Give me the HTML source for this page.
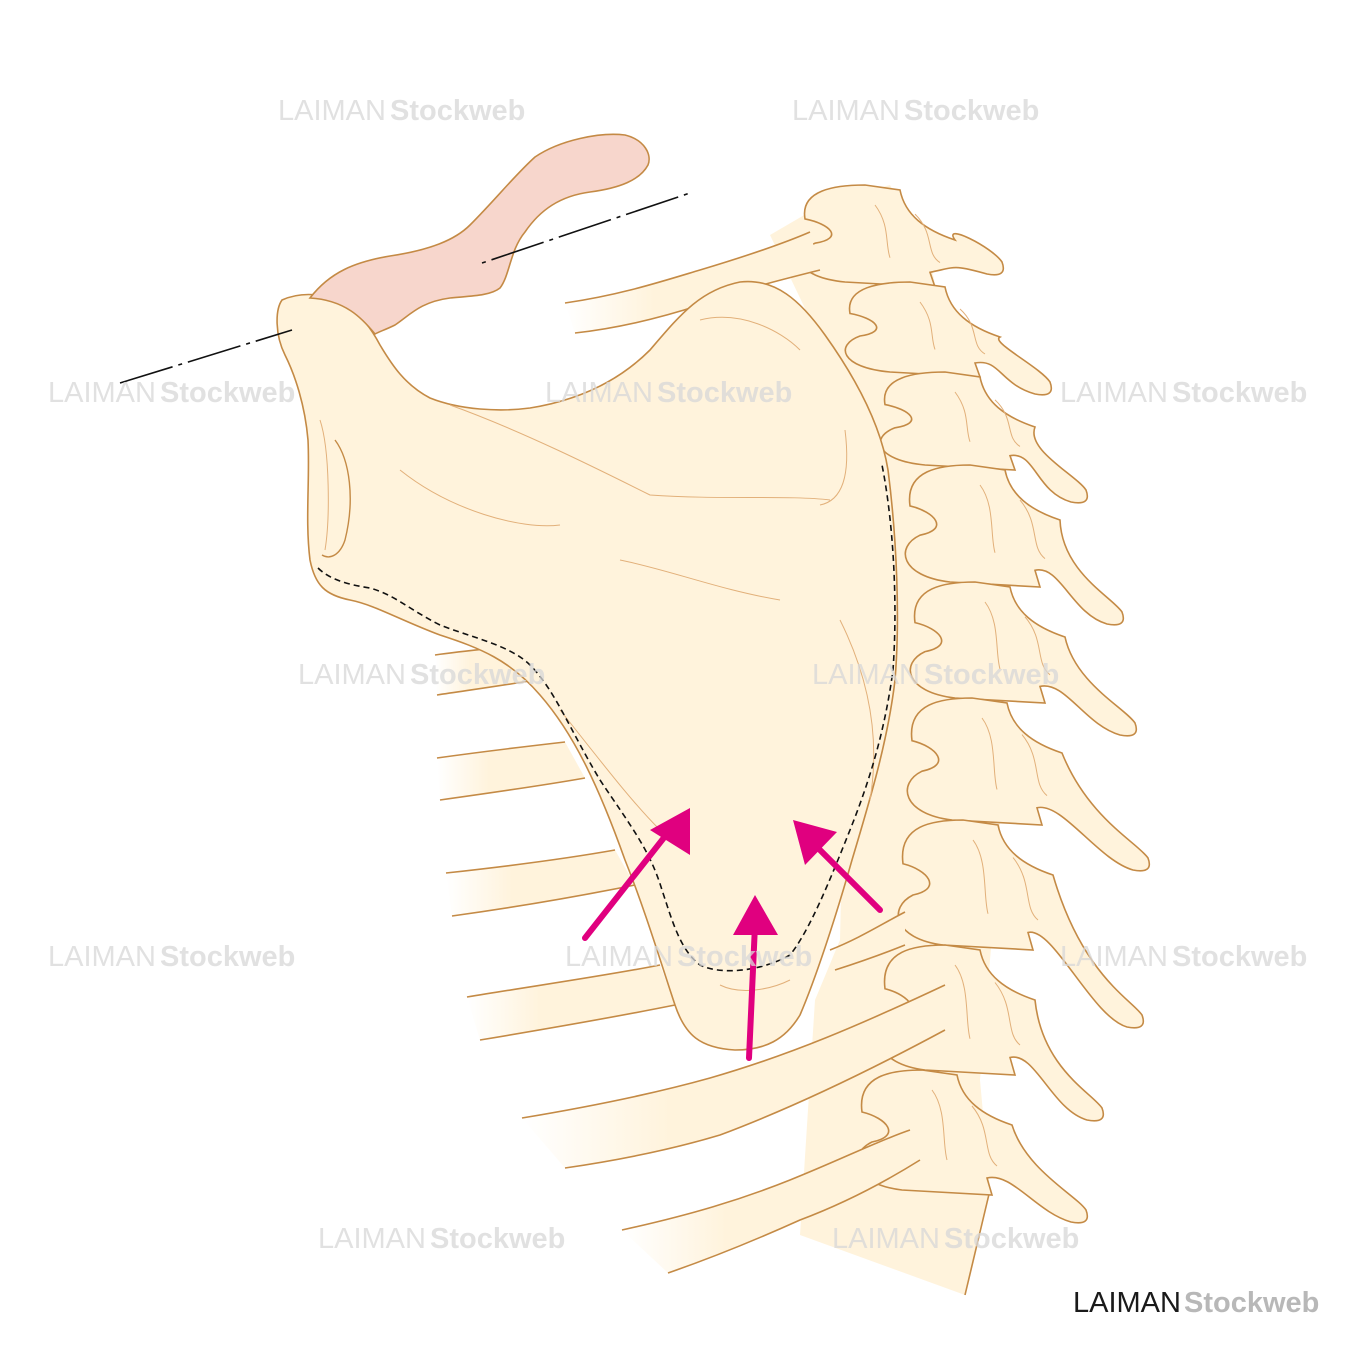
<!DOCTYPE html>
<html><head><meta charset="utf-8"><style>
html,body{margin:0;padding:0;background:#fff}
svg{display:block}
.wm{font-family:"Liberation Sans",sans-serif;font-size:29px;fill:#d8d8d8;opacity:.75}
</style></head><body>
<svg id="s" width="1350" height="1350" viewBox="0 0 1350 1350" xmlns="http://www.w3.org/2000/svg">
<defs>
<linearGradient id="rg" x1="0" x2="1" y1="0" y2="0">
<stop offset="0" stop-color="#fff3dc" stop-opacity="0"/>
<stop offset="0.35" stop-color="#fff3dc" stop-opacity="1"/>
</linearGradient>
</defs>
<g id="col"></g>
<g id="vert"></g>
<g id="ribs"></g>
<!-- scapula -->
<path d="M282,300 C300,292 325,292 345,305 C362,315 372,330 380,345 C392,365 405,385 430,398 C460,410 500,412 530,408 C580,400 620,380 650,350 C680,315 700,290 740,282 C775,278 800,300 825,335 C850,370 880,420 888,470 C897,540 900,620 895,680 C888,740 870,800 852,860 C835,920 815,980 800,1015 C785,1040 765,1050 735,1050 C700,1048 685,1035 675,1005 C660,960 645,910 625,860 C600,790 575,735 540,695 C510,660 480,648 440,635 C400,620 375,605 350,600 C325,595 315,585 310,560 C305,520 310,480 308,440 C305,405 295,375 285,355 C275,335 275,310 282,300 Z" fill="#fff3dc" stroke="#c48a45" stroke-width="1.6"/>
<g fill="none" stroke="#e2b07a" stroke-width="1">
<path d="M320,420 C330,450 330,520 325,550"/>
<path d="M450,405 C520,430 600,470 650,495 C720,500 790,495 830,500"/>
<path d="M400,470 C450,510 520,530 560,525"/>
<path d="M620,560 C670,570 720,590 780,600"/>
<path d="M840,620 C870,680 880,740 870,800"/>
<path d="M560,710 C600,760 630,800 660,830"/>
<path d="M700,320 C740,310 780,330 800,350"/>
<path d="M845,430 C850,470 845,500 820,505"/>
<path d="M720,985 C740,995 770,990 790,980"/>
</g>
<path d="M335,440 C350,460 355,500 345,540 C340,555 330,560 322,555" fill="none" stroke="#c48a45" stroke-width="1.4"/>
<!-- clavicle -->
<path d="M310,298 C330,272 355,262 390,256 C430,250 455,240 470,225 C495,200 515,175 535,157 C560,140 600,132 625,135 C645,140 652,155 648,165 C640,180 620,188 590,192 C560,196 540,210 525,232 C510,250 510,275 500,288 C490,296 470,296 450,298 C420,302 410,315 395,325 C385,330 378,332 375,334 C362,318 345,300 310,298 Z" fill="#f7d6cc" stroke="#c48a45" stroke-width="1.6"/>
<path d="M120,383 L292,330" stroke="#111" stroke-width="1.6" stroke-dasharray="55,6,4,6"/>
<path d="M482,263 L690,193" stroke="#111" stroke-width="1.6" stroke-dasharray="4,6,55,6"/>
<path d="M318,568 C330,580 350,585 370,588 C395,595 410,610 440,625 C470,637 510,645 530,665 C555,690 570,730 600,780 C630,825 650,850 662,890 C672,920 680,950 700,965 C720,975 760,972 790,955 C810,930 830,880 850,830 C870,780 885,730 893,670 C898,600 893,520 882,465" fill="none" stroke="#111" stroke-width="1.6" stroke-dasharray="6,4"/>
<g fill="#e0007f" stroke="#e0007f" stroke-linecap="round">
<line x1="585" y1="938" x2="670" y2="830" stroke-width="6"/>
<polygon points="690,808 650,830 690,855" stroke="none"/>
<line x1="749" y1="1058" x2="755" y2="925" stroke-width="6"/>
<polygon points="755,895 733,935 778,935" stroke="none"/>
<line x1="880" y1="910" x2="815" y2="845" stroke-width="6"/>
<polygon points="793,820 837,832 805,865" stroke="none"/>
</g>
<g class="wm">
<text x="278" y="120">LAIMAN<tspan dx="4" font-weight="bold">Stockweb</tspan></text>
<text x="792" y="120">LAIMAN<tspan dx="4" font-weight="bold">Stockweb</tspan></text>
<text x="48" y="402">LAIMAN<tspan dx="4" font-weight="bold">Stockweb</tspan></text>
<text x="545" y="402">LAIMAN<tspan dx="4" font-weight="bold">Stockweb</tspan></text>
<text x="1060" y="402">LAIMAN<tspan dx="4" font-weight="bold">Stockweb</tspan></text>
<text x="298" y="684">LAIMAN<tspan dx="4" font-weight="bold">Stockweb</tspan></text>
<text x="812" y="684">LAIMAN<tspan dx="4" font-weight="bold">Stockweb</tspan></text>
<text x="48" y="966">LAIMAN<tspan dx="4" font-weight="bold">Stockweb</tspan></text>
<text x="565" y="966">LAIMAN<tspan dx="4" font-weight="bold">Stockweb</tspan></text>
<text x="1060" y="966">LAIMAN<tspan dx="4" font-weight="bold">Stockweb</tspan></text>
<text x="318" y="1248">LAIMAN<tspan dx="4" font-weight="bold">Stockweb</tspan></text>
<text x="832" y="1248">LAIMAN<tspan dx="4" font-weight="bold">Stockweb</tspan></text>
</g>
<text x="1073" y="1312" font-family="Liberation Sans,sans-serif" font-size="29" fill="#1a1a1a">LAIMAN<tspan dx="3" fill="#b8b8b8" font-weight="bold">Stockweb</tspan></text>
</svg>
<script>
var NS="http://www.w3.org/2000/svg";
function P(g,d,f,s,w){var p=document.createElementNS(NS,"path");p.setAttribute("d",d);p.setAttribute("fill",f||"none");if(s){p.setAttribute("stroke",s);p.setAttribute("stroke-width",w||1.6);}document.getElementById(g).appendChild(p);}
var C="#fff3dc",S="#c48a45";
P("col","M770,235 L830,200 L890,185 L930,260 L955,380 L985,480 L995,600 L1000,720 L1000,840 L990,960 L980,1080 L990,1190 L965,1295 L800,1235 L815,1000 L840,940 L850,500 L820,340 Z",C);
P("col","M965,1295 L990,1190",null,S,1.6);
var V=[[805,185,97,1002,272],[850,282,90,1050,392],[885,372,93,1086,500],[910,465,117,1122,622],[915,582,116,1135,733],[912,698,122,1148,868],[903,820,125,1142,1025],[885,945,125,1102,1118],[862,1070,120,1086,1220]];
V.forEach(function(v){var lx=v[0],t=v[1],h=v[2],tx=v[3],ty=v[4];
var d="M"+lx+","+(t+h*0.35)+" C"+(lx-5)+","+(t+5)+" "+(lx+30)+","+t+" "+(lx+60)+","+t+
" L"+(lx+95)+","+(t+5)+" C"+(lx+100)+","+(t+30)+" "+(lx+120)+","+(t+45)+" "+(lx+150)+","+(t+55)+
" C"+(tx-60)+","+(ty-50)+" "+(tx-10)+","+(ty-25)+" "+tx+","+(ty-10)+
" Q"+(tx+6)+","+(ty+6)+" "+(tx-15)+","+(ty+2)+
" C"+(tx-50)+","+(ty-8)+" "+(lx+150)+","+(t+h*0.85)+" "+(lx+125)+","+(t+h*0.9)+
" L"+(lx+130)+","+(t+h+5)+" L"+(lx+40)+","+(t+h)+
" C"+(lx-10)+","+(t+h*0.95)+" "+(lx-15)+","+(t+h*0.7)+" "+(lx+10)+","+(t+h*0.6)+
" C"+(lx+40)+","+(t+h*0.55)+" "+(lx+25)+","+(t+h*0.4)+" "+lx+","+(t+h*0.35)+" Z";
P("vert",d,C,S,1.6);
P("vert","M"+(lx+70)+","+(t+20)+" C"+(lx+85)+","+(t+40)+" "+(lx+80)+","+(t+h*0.6)+" "+(lx+85)+","+(t+h*0.75),null,"#e2b07a",1);
P("vert","M"+(lx+110)+","+(t+h*0.3)+" C"+(lx+130)+","+(t+h*0.5)+" "+(lx+120)+","+(t+h*0.7)+" "+(lx+135)+","+(t+h*0.8),null,"#e2b07a",1);
});
var R=[
["M565,303 C620,295 660,282 700,270 C740,258 780,245 810,232","M820,270 C780,280 740,290 700,305 C660,318 620,328 575,333"],
["M435,655 C470,650 500,648 530,644","M535,680 C500,686 470,690 437,695"],
["M437,758 C480,752 530,746 565,742","M585,778 C540,786 490,793 440,800"],
["M446,873 C510,866 570,858 615,850","M635,885 C580,896 510,908 452,916"],
["M467,997 C540,985 610,975 660,965","M675,1005 C610,1018 540,1030 480,1040"],
["M830,950 C860,938 880,925 905,912","M905,945 C880,955 860,962 835,970"],
["M522,1118 C600,1105 660,1092 710,1078 C790,1055 860,1025 945,985","M945,1030 C880,1065 800,1105 720,1135 C670,1150 620,1160 565,1168"],
["M622,1230 C690,1215 740,1200 790,1180 C840,1160 880,1140 910,1130","M920,1160 C880,1185 840,1205 800,1220 C760,1238 720,1255 668,1273"]
];
R.forEach(function(r){
var bot=r[1].replace(/^M/,"L");
P("ribs",r[0]+" "+bot+" Z","url(#rg)");
P("ribs",r[0],null,S,1.6);P("ribs",r[1],null,S,1.6);
});
</script>
</body></html>
